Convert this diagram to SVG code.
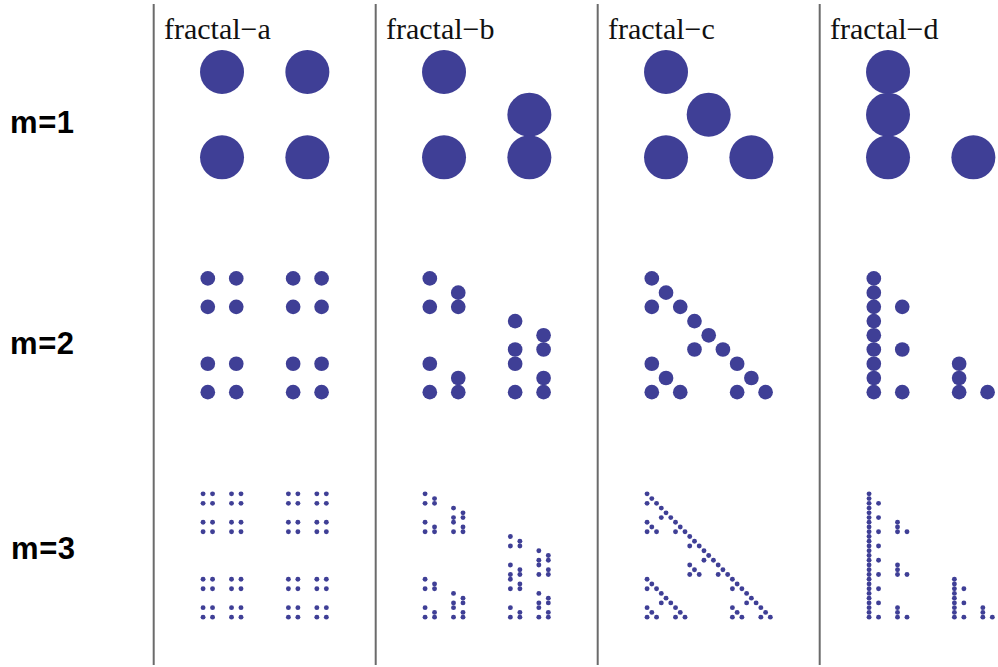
<svg xmlns="http://www.w3.org/2000/svg" width="998" height="667" viewBox="0 0 998 667">
<style>
circle { fill: #3f3f96; }
.sep { stroke: #6b6b6b; stroke-width: 2; fill: none; }
.title { font-family: "Liberation Serif", "Times New Roman", serif; font-size: 30px; fill: #111; }
.row { font-family: "Liberation Sans", Arial, sans-serif; font-weight: bold; font-size: 31px; letter-spacing: 0.6px; fill: #000; }
</style>
<defs>
  <g id="a1"><circle cx="0" cy="0" r="22"/><circle cx="85.333" cy="0" r="22"/><circle cx="0" cy="85.333" r="22"/><circle cx="85.333" cy="85.333" r="22"/></g>
  <g id="a2"><use href="#a1" transform="scale(0.33333)"/><use href="#a1" transform="translate(85.333,0) scale(0.33333)"/><use href="#a1" transform="translate(0,85.333) scale(0.33333)"/><use href="#a1" transform="translate(85.333,85.333) scale(0.33333)"/></g>
  <g id="a3"><use href="#a2" transform="scale(0.33333)"/><use href="#a2" transform="translate(85.333,0) scale(0.33333)"/><use href="#a2" transform="translate(0,85.333) scale(0.33333)"/><use href="#a2" transform="translate(85.333,85.333) scale(0.33333)"/></g>

  <g id="b1"><circle cx="0" cy="0" r="22"/><circle cx="0" cy="85.333" r="22"/><circle cx="85.333" cy="42.667" r="22"/><circle cx="85.333" cy="85.333" r="22"/></g>
  <g id="b2"><use href="#b1" transform="scale(0.33333)"/><use href="#b1" transform="translate(0,85.333) scale(0.33333)"/><use href="#b1" transform="translate(85.333,42.667) scale(0.33333)"/><use href="#b1" transform="translate(85.333,85.333) scale(0.33333)"/></g>
  <g id="b3"><use href="#b2" transform="scale(0.33333)"/><use href="#b2" transform="translate(0,85.333) scale(0.33333)"/><use href="#b2" transform="translate(85.333,42.667) scale(0.33333)"/><use href="#b2" transform="translate(85.333,85.333) scale(0.33333)"/></g>

  <g id="c1"><circle cx="0" cy="0" r="22"/><circle cx="42.667" cy="42.667" r="22"/><circle cx="0" cy="85.333" r="22"/><circle cx="85.333" cy="85.333" r="22"/></g>
  <g id="c2"><use href="#c1" transform="scale(0.33333)"/><use href="#c1" transform="translate(42.667,42.667) scale(0.33333)"/><use href="#c1" transform="translate(0,85.333) scale(0.33333)"/><use href="#c1" transform="translate(85.333,85.333) scale(0.33333)"/></g>
  <g id="c3"><use href="#c2" transform="scale(0.33333)"/><use href="#c2" transform="translate(42.667,42.667) scale(0.33333)"/><use href="#c2" transform="translate(0,85.333) scale(0.33333)"/><use href="#c2" transform="translate(85.333,85.333) scale(0.33333)"/></g>

  <g id="d1"><circle cx="0" cy="0" r="22"/><circle cx="0" cy="42.667" r="22"/><circle cx="0" cy="85.333" r="22"/><circle cx="85.333" cy="85.333" r="22"/></g>
  <g id="d2"><use href="#d1" transform="scale(0.33333)"/><use href="#d1" transform="translate(0,42.667) scale(0.33333)"/><use href="#d1" transform="translate(0,85.333) scale(0.33333)"/><use href="#d1" transform="translate(85.333,85.333) scale(0.33333)"/></g>
  <g id="d3"><use href="#d2" transform="scale(0.33333)"/><use href="#d2" transform="translate(0,42.667) scale(0.33333)"/><use href="#d2" transform="translate(0,85.333) scale(0.33333)"/><use href="#d2" transform="translate(85.333,85.333) scale(0.33333)"/></g>
</defs>

<rect x="0" y="0" width="998" height="667" fill="#ffffff"/>

<g id="separators">
  <line class="sep" x1="153.7" y1="4" x2="153.7" y2="665"/>
  <line class="sep" x1="375.7" y1="4" x2="375.7" y2="665"/>
  <line class="sep" x1="597.7" y1="4" x2="597.7" y2="665"/>
  <line class="sep" x1="819.7" y1="4" x2="819.7" y2="665"/>
</g>

<g id="row-labels">
  <text class="row" x="10" y="133">m=1</text>
  <text class="row" x="10" y="353.5">m=2</text>
  <text class="row" x="11" y="558.7">m=3</text>
</g>

<g id="fractal-a">
  <text class="title" x="164" y="39">fractal−a</text>
  <use href="#a1" transform="translate(222.03,72.03)"/>
  <use href="#a2" transform="translate(207.81,278.41)"/>
  <use href="#a3" transform="translate(203.07,493.87)"/>
</g>
<g id="fractal-b">
  <text class="title" x="386" y="39">fractal−b</text>
  <use href="#b1" transform="translate(444.03,72.03)"/>
  <use href="#b2" transform="translate(429.81,278.41)"/>
  <use href="#b3" transform="translate(425.07,493.87)"/>
</g>
<g id="fractal-c">
  <text class="title" x="608" y="39">fractal−c</text>
  <use href="#c1" transform="translate(666.03,72.03)"/>
  <use href="#c2" transform="translate(651.81,278.41)"/>
  <use href="#c3" transform="translate(647.07,493.87)"/>
</g>
<g id="fractal-d">
  <text class="title" x="830" y="39">fractal−d</text>
  <use href="#d1" transform="translate(888.03,72.03)"/>
  <use href="#d2" transform="translate(873.81,278.41)"/>
  <use href="#d3" transform="translate(869.07,493.87)"/>
</g>
</svg>
